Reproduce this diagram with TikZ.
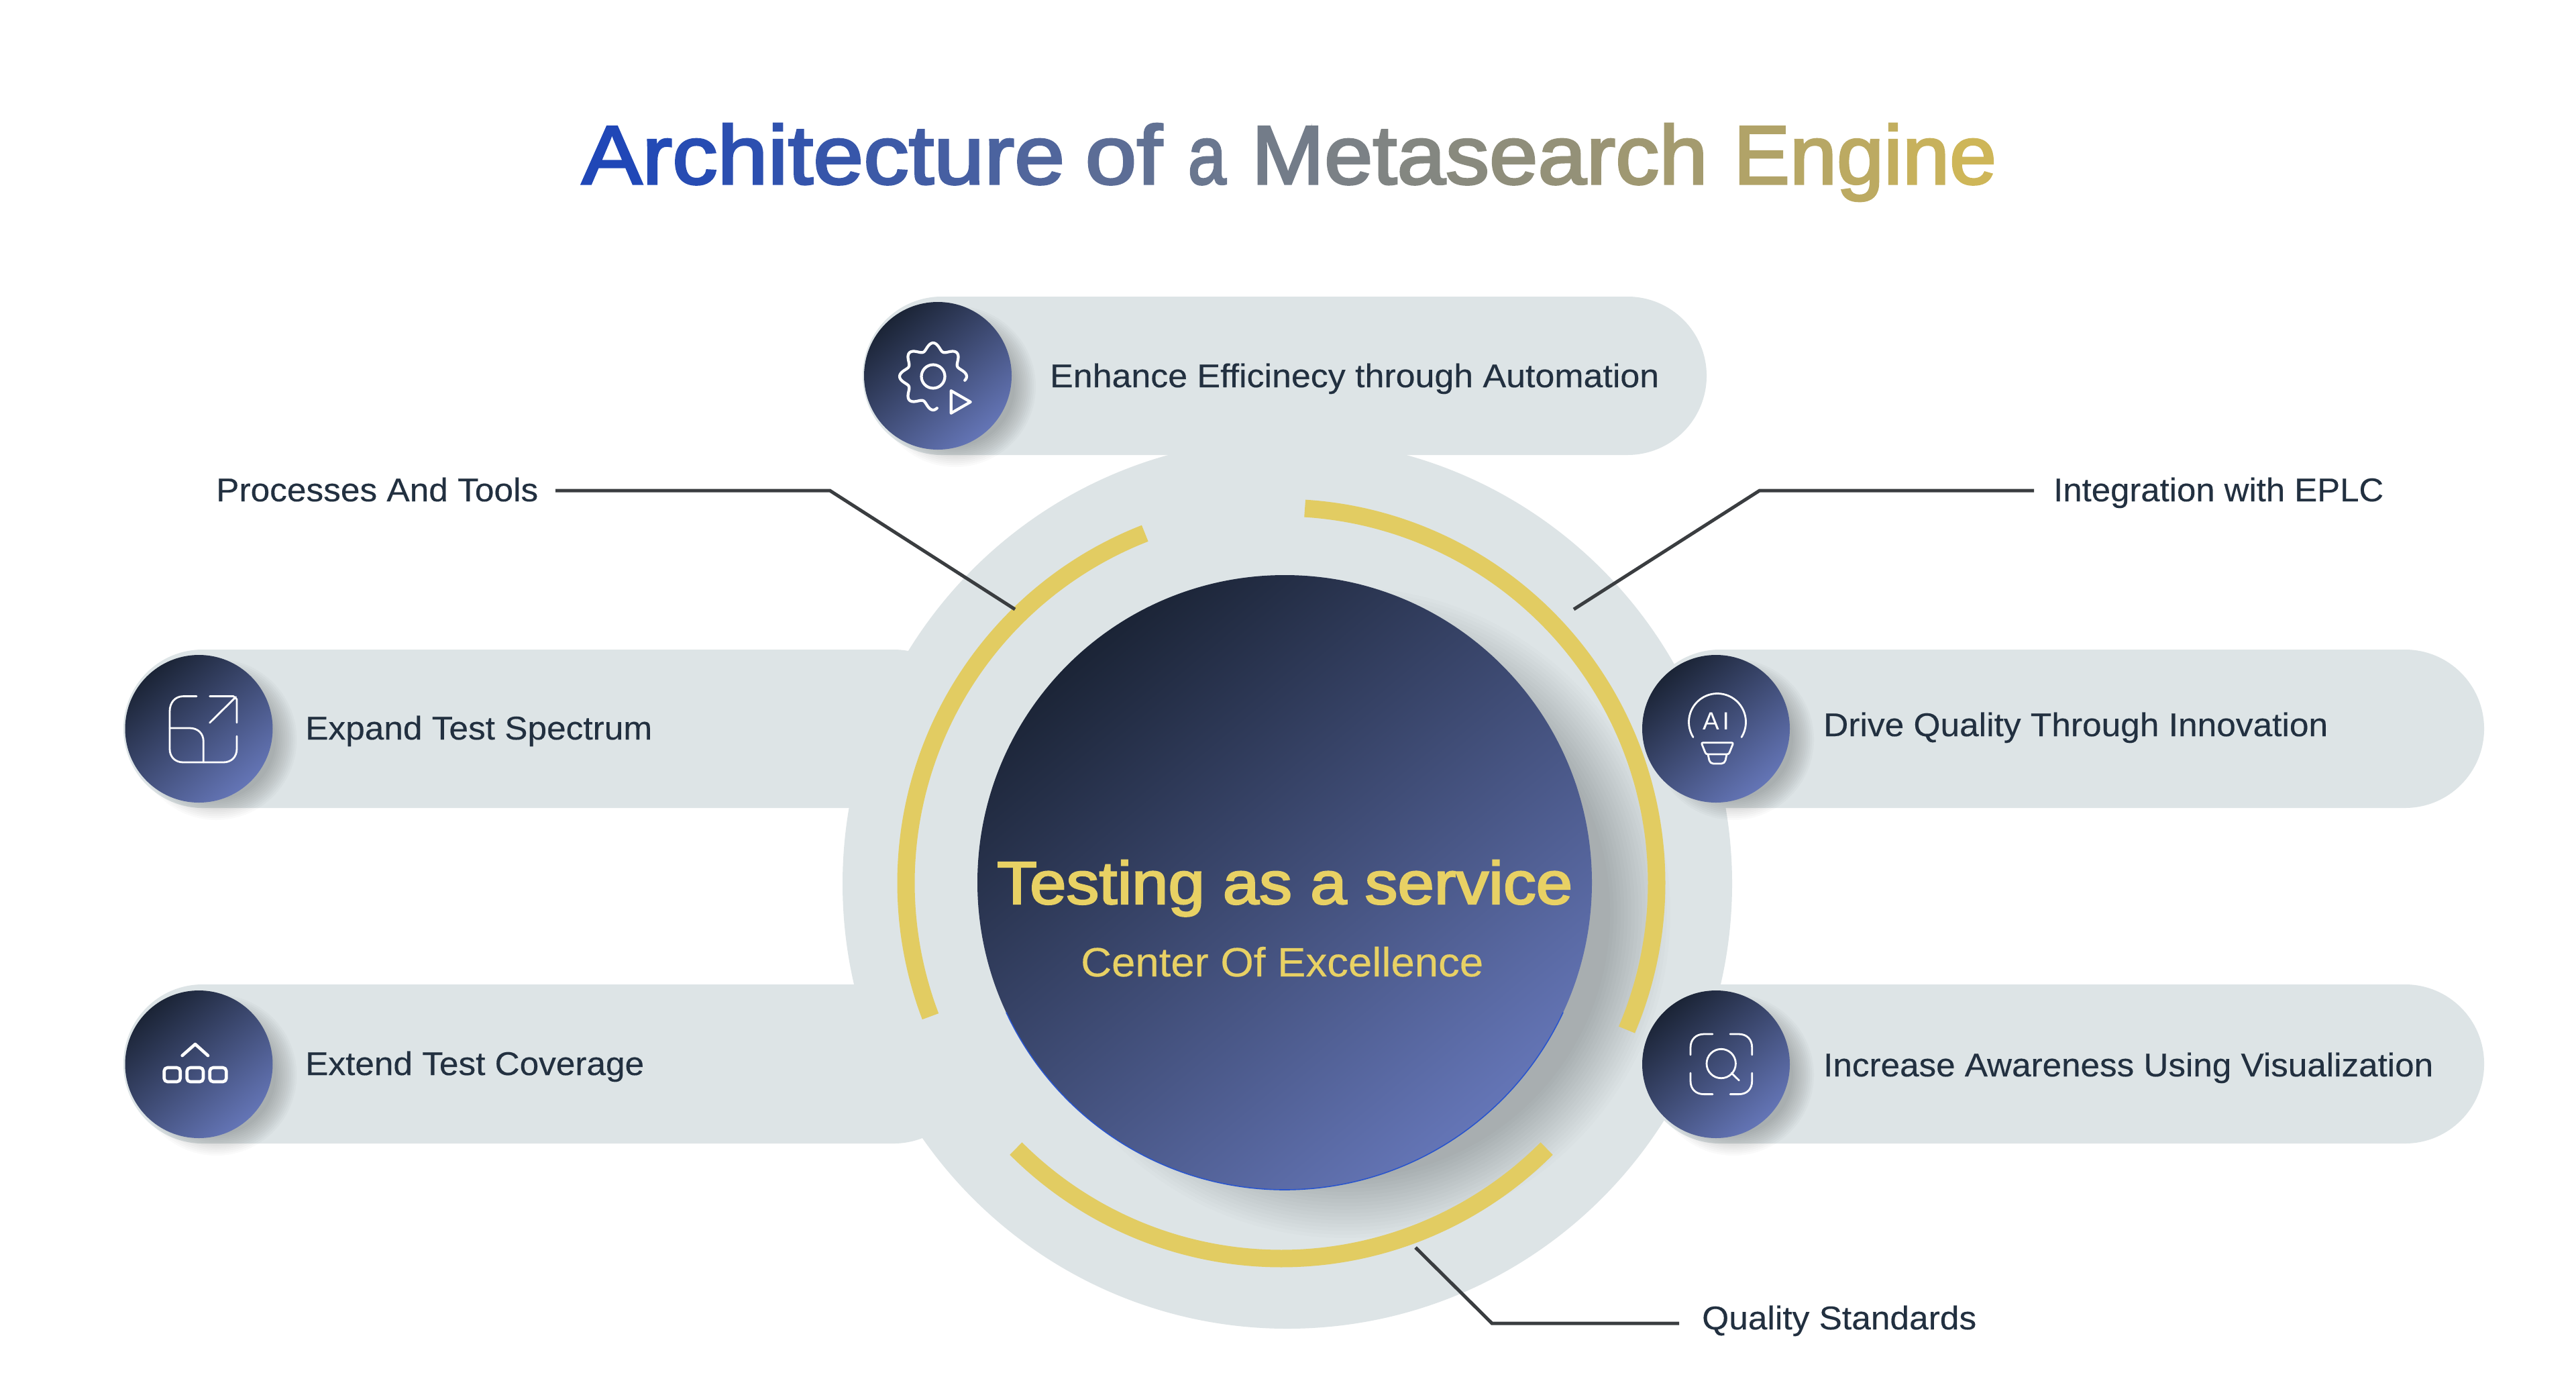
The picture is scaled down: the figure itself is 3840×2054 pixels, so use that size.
\documentclass[tikz,border=0pt]{standalone}
\usepackage{fontspec}
\usepackage{graphicx}
\setmainfont{Liberation Sans}
\newfontfamily\labelface[FakeBold=0.25]{Liberation Sans}
\newfontfamily\headface[FakeBold=2.6]{Liberation Sans}
\definecolor{paleGrey}{HTML}{DDE4E6}
\definecolor{gold}{HTML}{E2CC62}
\definecolor{goldText}{HTML}{E8D164}
\definecolor{navyDark}{HTML}{1B2436}
\definecolor{navyLight}{HTML}{6475B6}
\definecolor{inkText}{HTML}{223040}
\definecolor{leaderInk}{HTML}{3A3D40}
\definecolor{titleA}{HTML}{1C45B9}
\definecolor{titleB}{HTML}{D2B856}
\definecolor{rimBlue}{HTML}{2A55CC}
\newcommand\fitx[2]{\resizebox{#1pt}{\height}{#2}}
\newcommand\gl[2]{\textcolor{titleA!#1!titleB}{#2}}
\tikzset{
  pill/.style={fill=paleGrey,rounded corners=117.9pt},
  navyball/.style={top color=navyDark,bottom color=navyLight,shading angle=40},
  goldarc/.style={draw=gold,line width=26pt,line cap=butt},
  leaderline/.style={draw=leaderInk,line width=5pt,line join=miter},
  glyphthin/.style={draw=white,line width=2.8pt,line cap=round,line join=round},
  glyphbold/.style={draw=white,line width=4.2pt,line cap=round,line join=round},
  lbl/.style={anchor=base west,inner sep=0pt,text=inkText,font=\labelface\fontsize{49}{49}\selectfont},
}
\begin{document}
\begin{tikzpicture}[x=1pt,y=-1pt]
\useasboundingbox (0,0) rectangle (3840,2054);
\fill[white] (0,0) rectangle (3840,2054);

% backing disc and pills
\fill[paleGrey] (1919,1317) circle (663);
\fill[pill] (1286,442) rectangle (2544,678);
\fill[pill] (184,968) rectangle (1450,1204);
\fill[pill] (184,1467) rectangle (1450,1704);
\fill[pill] (2446,968) rectangle (3703,1204);
\fill[pill] (2446,1467) rectangle (3703,1704);

% shadows
\foreach \k in {1,...,18}{
  \fill[black,opacity=0.013] (2005,1360) circle ({390+95*\k/18});
}
\foreach \k in {1,...,12}{
  \fill[black,opacity=0.018] (1424,576) circle ({86+34*\k/12});
  \fill[black,opacity=0.018] (322.5,1102) circle ({86+34*\k/12});
  \fill[black,opacity=0.018] (322.5,1602) circle ({86+34*\k/12});
  \fill[black,opacity=0.018] (2584,1102) circle ({86+34*\k/12});
  \fill[black,opacity=0.018] (2584,1602) circle ({86+34*\k/12});
}

% gold arcs
\draw[goldarc] plot[smooth,domain=86.4:-23,samples=70] ({1910+559.5*cos(\x)},{1316-559.5*sin(\x)});
\draw[goldarc] plot[smooth,domain=111.3:200.8,samples=60] ({1910+559.5*cos(\x)},{1316-559.5*sin(\x)});
\draw[goldarc] plot[smooth,domain=225:315,samples=60] ({1910+559.5*cos(\x)},{1316-559.5*sin(\x)});

% main disc
\shade[navyball] (1915,1315) circle (458);
\draw[rimBlue,line width=1.6pt] plot[smooth,domain=205:335,samples=70] ({1915+458*cos(\x)},{1315-458*sin(\x)});

% icon discs
\shade[navyball] (1398,560) circle (110);
\shade[navyball] (296.5,1086) circle (110);
\shade[navyball] (296.5,1586) circle (110);
\shade[navyball] (2558,1086) circle (110);
\shade[navyball] (2558,1586) circle (110);

% gear with play mark
\draw[glyphbold] plot[smooth,domain=-7:277,samples=120] ({1391+(44.5+5.5*cos(8*\x))*cos(\x)},{561-(44.5+5.5*cos(8*\x))*sin(\x)});
\draw[glyphbold] (1391,561) circle (17.5);
\draw[glyphbold] (1417.7,582.3) -- (1417.7,615.7) -- (1446.7,599) -- cycle;

% expand icon
\draw[glyphthin] (293,1037.6) -- (273,1037.6) .. controls (261,1037.6) and (253,1047) .. (253,1060) -- (253,1116) .. controls (253,1128) and (261,1136) .. (273,1136) -- (333,1136) .. controls (345,1136) and (353,1128) .. (353,1116) -- (353,1097);
\draw[glyphthin] (312.7,1037.6) -- (348,1037.6) -- (353,1042) -- (353,1077);
\draw[glyphthin] (312.7,1077) -- (351.7,1038.5);
\draw[glyphthin] (253,1085) -- (283,1085) .. controls (295,1085) and (303.3,1093) .. (303.3,1105) -- (303.3,1136);

% coverage icon
\draw[glyphbold,line width=4.6pt,rounded corners=5pt] (244.7,1591) rectangle (268.7,1612);
\draw[glyphbold,line width=4.6pt,rounded corners=5pt] (278.7,1591) rectangle (303,1612);
\draw[glyphbold,line width=4.6pt,rounded corners=5pt] (312.7,1591) rectangle (337.3,1612);
\draw[glyphbold,line width=4.6pt] (271.7,1573) -- (291,1556) -- (310,1573);

% AI bulb
\draw[glyphthin] plot[smooth,domain=212:-32,samples=50] ({2560+42.5*cos(\x)},{1076-42.5*sin(\x)});
\node (aiGlyph) [anchor=base,inner sep=0pt,text=white,font=\fontsize{37}{37}\selectfont] at (2558,1087) {A\kern5pt I};
\draw[glyphthin,rounded corners=2.5pt] (2536,1106.7) -- (2584,1106.7) -- (2577,1124) -- (2543,1124) -- cycle;
\draw[glyphthin,rounded corners=5pt] (2546,1124) -- (2549,1138) -- (2571,1138) -- (2574,1124);

% search icon
\draw[glyphthin] (2553,1541) -- (2540,1541) .. controls (2528,1541) and (2520,1549) .. (2520,1561) -- (2520,1572);
\draw[glyphthin] (2579,1541) -- (2592,1541) .. controls (2604,1541) and (2611.7,1549) .. (2611.7,1561) -- (2611.7,1572);
\draw[glyphthin] (2520,1599) -- (2520,1611) .. controls (2520,1623) and (2528,1630.6) .. (2540,1630.6) -- (2553,1630.6);
\draw[glyphthin] (2611.7,1599) -- (2611.7,1611) .. controls (2611.7,1623) and (2604,1630.6) .. (2592,1630.6) -- (2579,1630.6);
\draw[glyphthin] (2565.7,1585) circle (21.7);
\draw[glyphthin] (2581,1599) -- (2592.3,1610);

% leaders
\coordinate (ptEnd) at (828,731);
\coordinate (ptBend) at (1237,731);
\coordinate (ptTip) at (1513,908);
\coordinate (ieEnd) at (3032,731);
\coordinate (ieBend) at (2623,731);
\coordinate (ieTip) at (2346,908);
\coordinate (qsEnd) at (2503,1972);
\coordinate (qsBend) at (2224,1972);
\coordinate (qsTip) at (2110,1859);
\draw[leaderline] (ptEnd) -- (ptBend) -- (ptTip);
\draw[leaderline] (ieEnd) -- (ieBend) -- (ieTip);
\draw[leaderline] (qsEnd) -- (qsBend) -- (qsTip);

% title: word boxes fitted to the reference's word positions
\node (title) [anchor=base west,inner sep=0pt,font=\headface\fontsize{124}{124}\selectfont] at (867,274) {%
\fitx{720}{\gl{98}{A}\gl{96}{r}\gl{94}{c}\gl{91}{h}\gl{89}{i}\gl{87}{t}\gl{85}{e}\gl{82}{c}\gl{79}{t}\gl{77}{u}\gl{74}{r}\gl{71}{e}}\ \kern-4pt%
\fitx{115}{\gl{65}{o}\gl{62}{f}}\ \kern3.6pt%
\fitx{57}{\gl{57}{a}}\ \kern3.4pt%
\fitx{680}{\gl{52}{M}\gl{48}{e}\gl{45}{t}\gl{43}{a}\gl{40}{s}\gl{37}{e}\gl{34}{a}\gl{31}{r}\gl{28}{c}\gl{25}{h}}\ \kern4pt%
\fitx{392}{\gl{18}{E}\gl{15}{n}\gl{12}{g}\gl{9}{i}\gl{6}{n}\gl{2}{e}}};

% labels
\node (lblEnhance) [lbl] at (1565,577) {\fitx{908}{Enhance Efficinecy through Automation}};
\node (lblProcess) [lbl] at (322,747) {\fitx{480}{Processes And Tools}};
\node (lblEPLC) [lbl] at (3061,747) {\fitx{492}{Integration with EPLC}};
\node (lblExpand) [lbl] at (455,1102) {\fitx{517}{Expand Test Spectrum}};
\node (lblExtend) [lbl] at (455,1602) {\fitx{505}{Extend Test Coverage}};
\node (lblDrive) [lbl] at (2718,1097) {\fitx{752}{Drive Quality Through Innovation}};
\node (lblIncrease) [lbl] at (2718,1604) {\fitx{909}{Increase Awareness Using Visualization}};
\node (lblQuality) [lbl] at (2537,1981) {\fitx{409}{Quality Standards}};

% centre text
\node (mainText) [anchor=base west,inner sep=0pt,text=goldText,font=\headface\fontsize{90}{90}\selectfont] at (1486,1347) {\fitx{858}{Testing as a service}};
\node (subText) [anchor=base west,inner sep=0pt,text=goldText,font=\labelface\fontsize{61}{61}\selectfont] at (1611,1455) {\fitx{600}{Center Of Excellence}};
\end{tikzpicture}
\end{document}
